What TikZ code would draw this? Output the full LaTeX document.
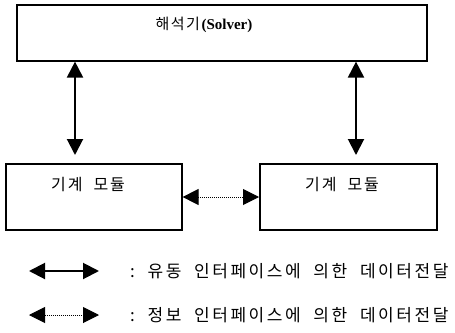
\documentclass[tikz,border=0pt]{standalone}
\usepackage{fontspec}
\setmainfont{Liberation Serif}
\newfontfamily\kr[LetterSpace=12]{Noto Sans CJK KR}
\newfontfamily\krleg[LetterSpace=15]{Noto Sans CJK KR}
\newfontfamily\krtop[LetterSpace=10]{Noto Sans CJK KR}
\usetikzlibrary{arrows.meta}
\tikzset{
  box/.style={draw, line width=1.6pt, inner sep=0pt, anchor=north west},
  lbl/.style={inner sep=0pt},
  conn/.style={line width=2pt, {Triangle[length=16pt,width=16pt]}-{Triangle[length=16pt,width=16pt]}},
  info/.style={line width=1pt, dash pattern=on 1pt off 1pt, {Triangle[length=16pt,width=16pt]}-{Triangle[length=16pt,width=16pt]}},
  legtxt/.style={inner sep=0pt, anchor=west, font=\krleg\fontsize{17}{19}\selectfont}
}
\begin{document}
\begin{tikzpicture}[x=1pt,y=-1pt]
\useasboundingbox (0,0) rectangle (455,332);
\node[box, minimum width=410pt, minimum height=56pt] (solver) at (16,4) {};
\node[box, minimum width=176pt, minimum height=66pt] (mod1) at (5,163) {};
\node[box, minimum width=177pt, minimum height=66pt] (mod2) at (259,163) {};
\node[lbl, font=\fontsize{15}{17}\selectfont] (tsolver) at (204,25) {{\krtop 해석기}\textbf{(Solver)}};
\node[lbl, font=\kr\fontsize{16}{18}\selectfont] (tmod1) at (88,185) {기계\ \ 모듈};
\node[lbl, font=\kr\fontsize{16}{18}\selectfont] (tmod2) at (342,185) {기계\ \ 모듈};
\coordinate (la) at (75,0);
\coordinate (ra) at (356,0);
\draw[conn] (solver.south -| la) -- ([yshift=8pt]mod1.north -| la);
\draw[conn] (solver.south -| ra) -- ([yshift=8pt]mod2.north -| ra);
\draw[info] (mod1.east |- 0,197) -- (mod2.west |- 0,197);
\coordinate (l1a) at (29,271);
\coordinate (l1b) at (99,271);
\coordinate (l2a) at (29,315);
\coordinate (l2b) at (99,315);
\draw[conn] (l1a) -- (l1b);
\draw[info] (l2a) -- (l2b);
\node[legtxt] (leg1) at (130,271) {:\ \ 유동\ \ 인터페이스에\ \ 의한\ \ 데이터전달};
\node[legtxt] (leg2) at (130,315) {:\ \ 정보\ \ 인터페이스에\ \ 의한\ \ 데이터전달};
\end{tikzpicture}
\end{document}
